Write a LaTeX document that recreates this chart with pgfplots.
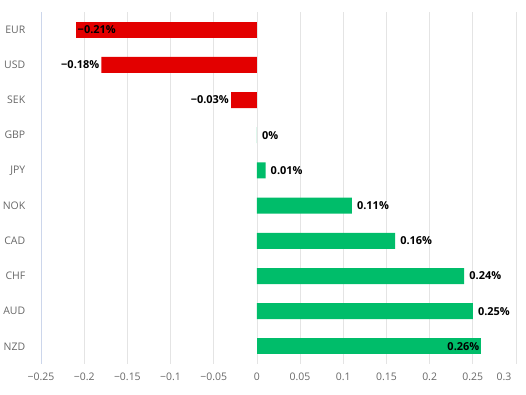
\documentclass[border=0pt]{standalone}
\usepackage{pgfplots}
\pgfplotsset{compat=1.18}
\usepackage{fontspec}
\setmainfont{Open Sans}
\definecolor{barred}{RGB}{227,0,0}
\definecolor{bargreen}{RGB}{0,189,106}
\definecolor{axisblue}{RGB}{204,214,235}
\definecolor{gridgray}{RGB}{228,228,228}
\definecolor{ticktext}{RGB}{102,102,102}
\begin{document}
\begin{tikzpicture}
\useasboundingbox (-41bp,-31bp) rectangle (485bp,364bp);
\begin{axis}[
  at={(0,0)}, anchor=south west,
  scale only axis, width=475bp, height=352bp,
  xmin=-0.25, xmax=0.3, ymin=-0.5, ymax=9.5, y dir=reverse,
  axis y line*=left, axis x line*=bottom,
  x axis line style={draw=none},
  y axis line style={draw=axisblue, line width=0.8pt},
  xtick={-0.25,-0.2,-0.15,-0.1,-0.05,0,0.05,0.1,0.15,0.2,0.25},
  xticklabels={−0.25,−0.2,−0.15,−0.1,−0.05,0,0.05,0.1,0.15,0.2,0.25},
  extra x ticks={0.3}, extra x tick labels={0.3},
  extra x tick style={xticklabel style={xshift=-12bp}},
  xmajorgrids, grid style={draw=gridgray, line width=0.8pt},
  major x tick style={draw=none},
  xticklabel style={font=\fontsize{10.5}{12}\selectfont, text=ticktext, yshift=-5bp},
  ytick={0,1,2,3,4,5,6,7,8,9},
  yticklabels={EUR,USD,SEK,GBP,JPY,NOK,CAD,CHF,AUD,NZD},
  major y tick style={draw=none},
  yticklabel style={font=\fontsize{10.5}{12}\selectfont, text=ticktext, xshift=-8bp},
  extra y ticks={-0.5,0.5,1.5,2.5,3.5,4.5,5.5,6.5,7.5,8.5,9.5},
  extra y tick labels={},
  extra y tick style={major tick length=9bp, tick align=outside, tick style={draw=axisblue, line width=0.8pt}, grid=none},
  xbar, bar width=16bp, bar shift=0pt,
  point meta=explicit symbolic,
  nodes near coords,
  nodes near coords style={font=\bfseries\fontsize{11}{13}\selectfont, text=black, inner sep=2bp},
  clip=false,
]
% negative bars, labels outside (left)
\addplot[fill=barred, draw=none, nodes near coords style={anchor=east}]
  coordinates {(-0.18,1)[−0.18\%] (-0.03,2)[−0.03\%]};
% EUR, label inside
\addplot[fill=barred, draw=none, nodes near coords style={anchor=west}]
  coordinates {(-0.21,0)[−0.21\%]};
% positive bars, labels outside (right)
\addplot[fill=bargreen, draw=none, nodes near coords style={anchor=west, xshift=3bp}]
  coordinates {(0,3)[0\%] (0.01,4)[0.01\%] (0.11,5)[0.11\%] (0.16,6)[0.16\%] (0.24,7)[0.24\%] (0.25,8)[0.25\%]};
% NZD, label inside
\addplot[fill=bargreen, draw=none, nodes near coords style={anchor=east}]
  coordinates {(0.26,9)[0.26\%]};
\end{axis}
\end{tikzpicture}
\end{document}
